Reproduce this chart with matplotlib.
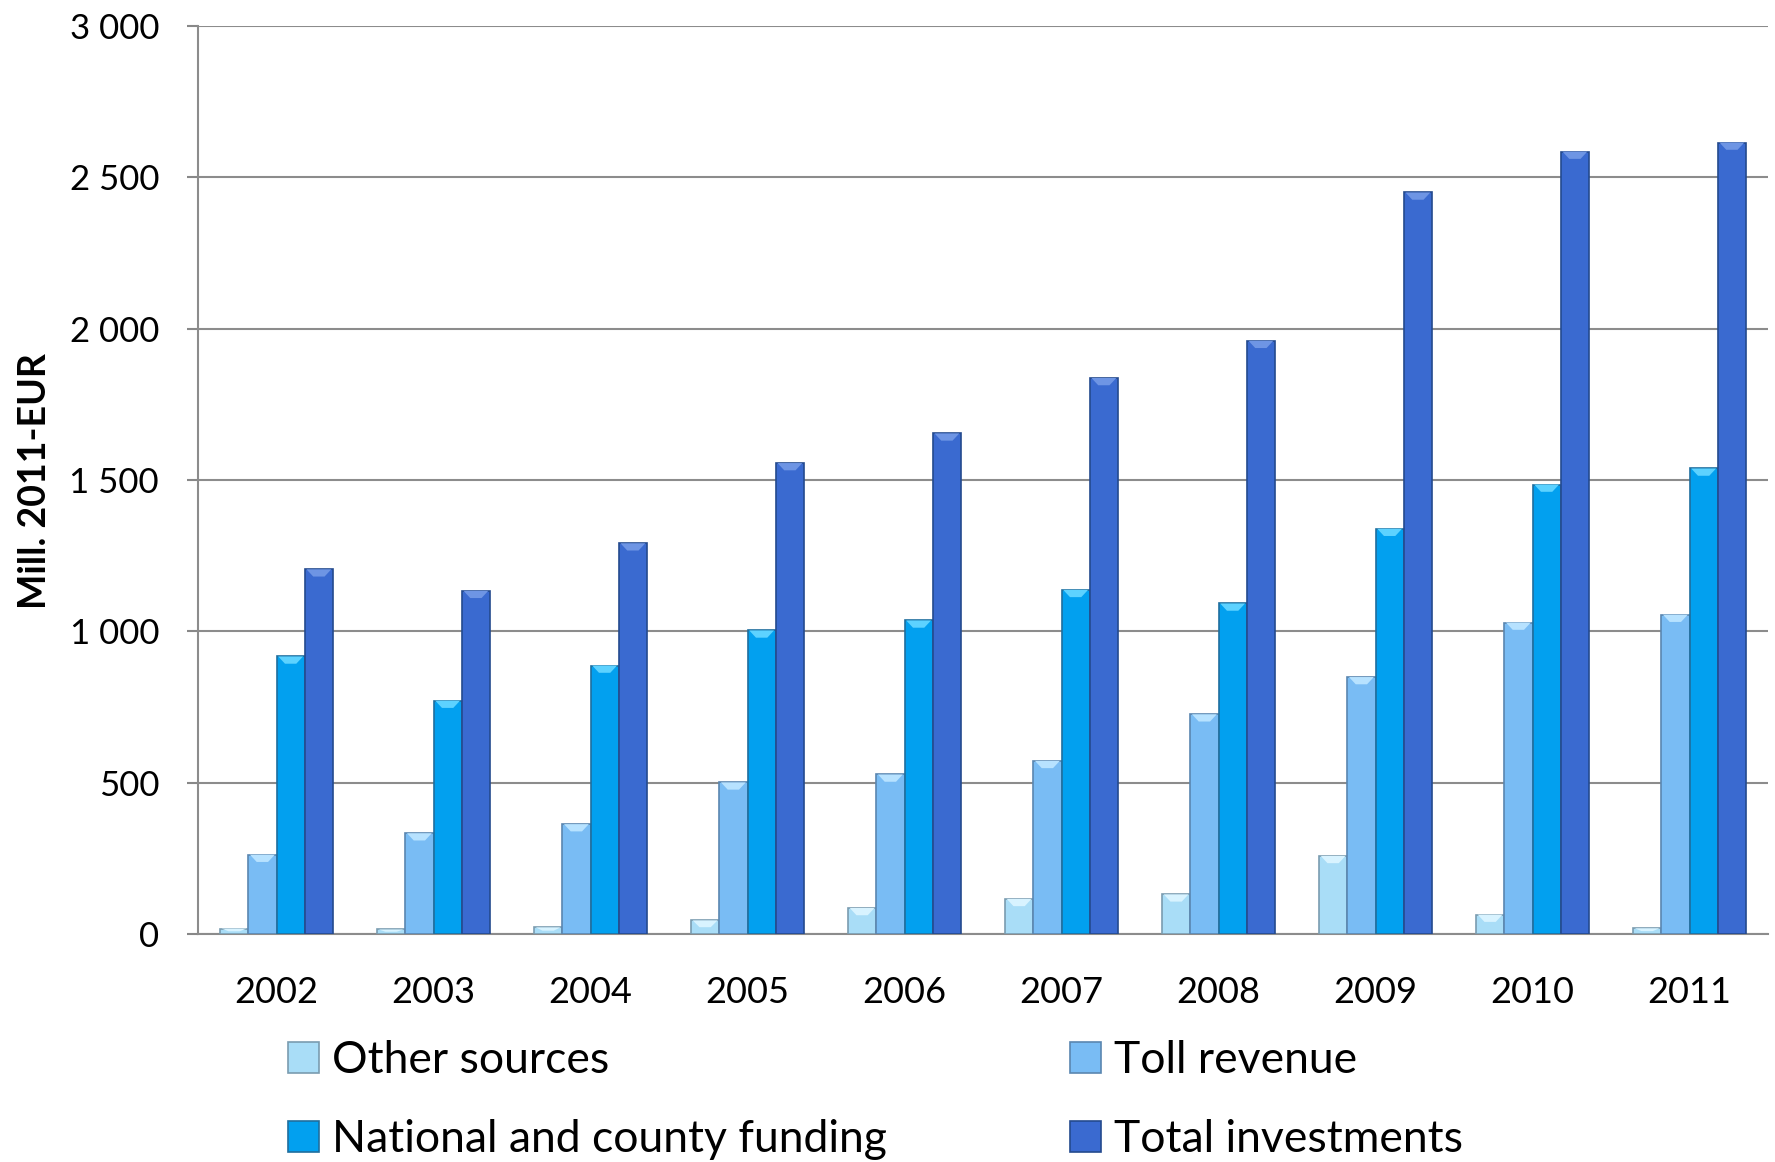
import matplotlib
matplotlib.use("Agg")
import matplotlib.pyplot as plt
import numpy as np

years = ["2002", "2003", "2004", "2005", "2006", "2007", "2008", "2009", "2010", "2011"]
other_sources = [18, 15, 22, 45, 86, 116, 131, 258, 64, 19]
toll_revenue = [262, 333, 363, 501, 527, 572, 726, 849, 1029, 1055]
national_county = [917, 771, 887, 1003, 1036, 1137, 1092, 1339, 1485, 1538]
total_investments = [1205, 1134, 1291, 1556, 1654, 1837, 1960, 2450, 2585, 2615]

series_names = ["Other sources", "Toll revenue", "National and county funding", "Total investments"]
yticks = [0, 500, 1000, 1500, 2000, 2500, 3000]
ytick_labels = ["0", "500", "1 000", "1 500", "2 000", "2 500", "3 000"]

colors = ["#A9DDF7", "#79BCF4", "#02A0EF", "#3A6AD0"]
tops = ["#D8F3FF", "#B7E2FF", "#5DD2FF", "#6E95E4"]
edges = ["#7A9CB0", "#5A86B0", "#1F6E9E", "#244A8E"]

plt.rcParams['font.family'] = ['Lato', 'DejaVu Sans']

fig = plt.figure(figsize=(17.75, 11.62), dpi=100)
ax = fig.add_axes([198/1775, 1 - 934/1162, 1570/1775, (934-26)/1162])

x = np.arange(len(years))
w = 0.18
data = [other_sources, toll_revenue, national_county, total_investments]
handles = []
for i, vals in enumerate(data):
    bars = ax.bar(x + (i - 1.5) * w, vals, width=w, color=colors[i],
                  edgecolor=edges[i], linewidth=1.2, zorder=3, label=series_names[i])
    handles.append(bars)
    for b in bars:
        bx, bw, bh = b.get_x(), b.get_width(), b.get_height()
        cap = min(24.0, bh * 0.5)
        tri = plt.Polygon([[bx + bw*0.06, bh], [bx + bw*0.94, bh], [bx + bw*0.7, bh - cap],
                           [bx + bw*0.3, bh - cap]],
                          closed=True, facecolor=tops[i], edgecolor='none', zorder=4)
        ax.add_patch(tri)

ax.set_xlim(-0.5, len(years) - 0.5)
ax.set_ylim(0, 3000)
ax.set_yticks(yticks)
ax.set_yticklabels(ytick_labels, fontsize=25)
ax.set_xticks(x)
ax.set_xticklabels(years, fontsize=26)
ax.tick_params(axis='x', length=0, pad=30)
ax.tick_params(axis='y', length=8, width=1.5, color='#888888', pad=20)
ax.yaxis.grid(True, color='#8C8C8C', linewidth=1.5, zorder=0)
ax.set_axisbelow(True)
for s in ['top', 'right']:
    ax.spines[s].set_visible(False)
ax.spines['left'].set_color('#8C8C8C')
ax.spines['left'].set_linewidth(1.5)
ax.spines['bottom'].set_color('#8C8C8C')
ax.spines['bottom'].set_linewidth(1.5)

fig.text(35/1775, 1 - 481/1162, "Mill. 2011-EUR", rotation=90, fontsize=27,
         fontweight='bold', ha='center', va='center')

order = [0, 2, 1, 3]
leg = fig.legend([handles[k] for k in order], [series_names[k] for k in order],
                 ncol=2, loc='upper left', bbox_to_anchor=(288/1775, 1 - 1040/1162),
                 frameon=False, fontsize=32, handlelength=0.7, handleheight=0.7,
                 handletextpad=0.3, columnspacing=4.1, labelspacing=0.85,
                 borderpad=0, borderaxespad=0)

fig.savefig("out.png", dpi=100)
